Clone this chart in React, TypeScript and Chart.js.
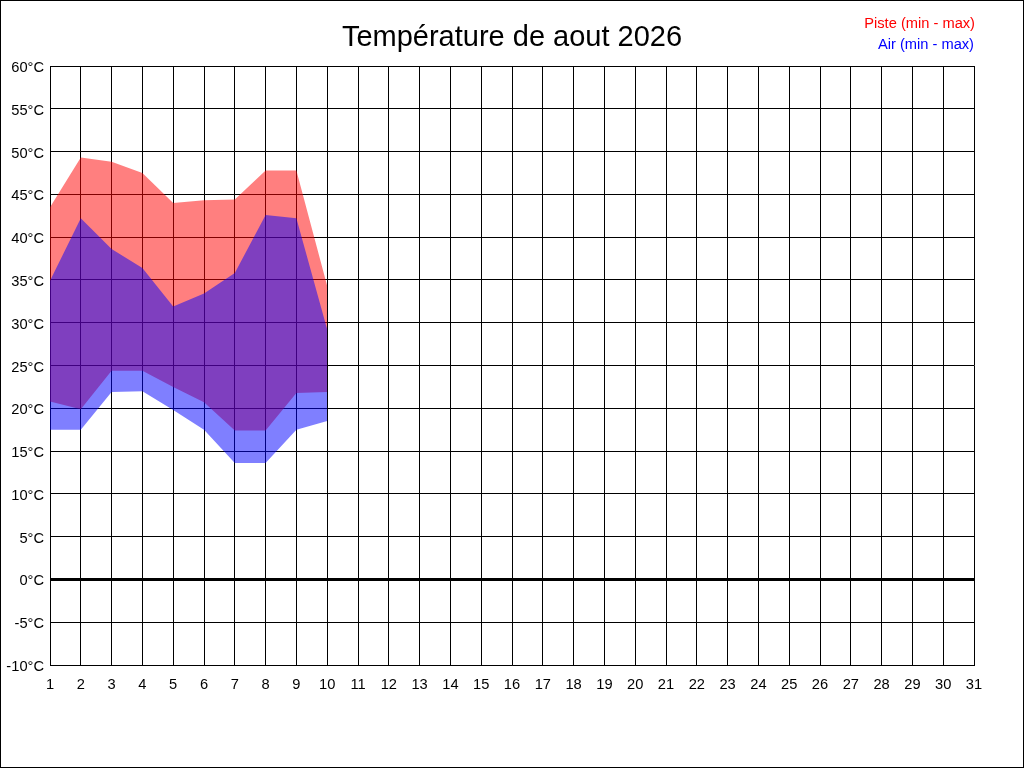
import { Chart, registerables } from "chart.js";
import { useEffect, useRef } from "react";

Chart.register(...registerables);

// jours du mois (1..31) et jours avec mesures
const monthDays = Array.from({ length: 31 }, (_, i) => i + 1);
const days = [1, 2, 3, 4, 5, 6, 7, 8, 9, 10];

// relevés (°C)
const pisteMax = [43.5, 49.3, 48.8, 47.5, 44.0, 44.3, 44.4, 47.8, 47.8, 34.3];
const pisteMin = [20.8, 19.9, 24.4, 24.4, 22.5, 20.7, 17.4, 17.4, 21.8, 21.9];
const airMax = [34.9, 42.2, 38.6, 36.4, 31.9, 33.4, 35.8, 42.6, 42.2, 29.2];
const airMin = [17.5, 17.5, 21.9, 22.0, 19.8, 17.5, 13.6, 13.6, 17.5, 18.5];

const FONT = "'Liberation Sans', Arial, sans-serif";

const toPoints = (values: number[]) => days.map((d, i) => ({ x: d, y: values[i] }));

// titre, légende et cadre dessinés sur le canvas
const decorPlugin = {
  id: "decor",
  afterDraw(chart: Chart) {
    const ctx = chart.ctx;
    ctx.save();
    ctx.strokeStyle = "#000";
    ctx.lineWidth = 1;
    ctx.strokeRect(0.5, 0.5, chart.width - 1, chart.height - 1);

    ctx.fillStyle = "#000";
    ctx.font = `29px ${FONT}`;
    ctx.textAlign = "center";
    ctx.textBaseline = "alphabetic";
    ctx.fillText("Température de aout 2026", 512, 46);

    ctx.font = `14.67px ${FONT}`;
    ctx.textAlign = "right";
    ctx.fillStyle = "#ff0000";
    ctx.fillText("Piste (min - max)", 975, 28);
    ctx.fillStyle = "#0000ff";
    ctx.fillText("Air (min - max)", 974, 49);
    ctx.restore();
  },
};

export default function App() {
  const chartRef = useRef<HTMLCanvasElement>(null);
  const chartInstance = useRef<Chart | null>(null);

  useEffect(() => {
    if (!chartRef.current) return;
    document.body.style.margin = "0";

    const config = {
      type: "line",
      data: {
        datasets: [
          {
            label: "Air max",
            data: toPoints(airMax),
            borderWidth: 0,
            borderColor: "transparent",
            backgroundColor: "rgba(0, 0, 255, 0.5)",
            pointRadius: 0,
            fill: "+1",
          },
          {
            label: "Air min",
            data: toPoints(airMin),
            borderWidth: 0,
            borderColor: "transparent",
            pointRadius: 0,
            fill: false,
          },
          {
            label: "Piste max",
            data: toPoints(pisteMax),
            borderWidth: 0,
            borderColor: "transparent",
            backgroundColor: "rgba(255, 0, 0, 0.5)",
            pointRadius: 0,
            fill: "+1",
          },
          {
            label: "Piste min",
            data: toPoints(pisteMin),
            borderWidth: 0,
            borderColor: "transparent",
            pointRadius: 0,
            fill: false,
          },
        ],
      },
      options: {
        responsive: false,
        devicePixelRatio: 1,
        animation: false,
        layout: { padding: { top: 66, right: 50, left: 0, bottom: 0 } },
        plugins: {
          legend: { display: false },
          title: { display: false },
          tooltip: { enabled: false },
        },
        scales: {
          x: {
            type: "linear",
            min: monthDays[0],
            max: monthDays[monthDays.length - 1],
            afterFit: (scale: any) => {
              scale.height = 103;
            },
            ticks: {
              stepSize: 1,
              autoSkip: false,
              maxRotation: 0,
              padding: 11,
              color: "#000",
              font: { family: FONT, size: 14.67 },
            },
            grid: { color: "#000", lineWidth: 1, drawTicks: false },
            border: { color: "#000", width: 1 },
          },
          y: {
            min: -10,
            max: 60,
            afterFit: (scale: any) => {
              scale.width = 50;
            },
            ticks: {
              stepSize: 5,
              padding: 6,
              labelOffset: 2,
              color: "#000",
              font: { family: FONT, size: 14.67 },
              callback: (v: any) => `${v}°C`,
            },
            grid: {
              color: "#000",
              lineWidth: (c: any) => (c.tick && c.tick.value === 0 ? 3 : 1),
              drawTicks: false,
            },
            border: { color: "#000", width: 1 },
          },
        },
      },
      plugins: [decorPlugin],
    };

    if (chartInstance.current) chartInstance.current.destroy();
    chartInstance.current = new Chart(chartRef.current, config as any);

    return () => {
      if (chartInstance.current) {
        chartInstance.current.destroy();
        chartInstance.current = null;
      }
    };
  }, []);

  return (
    <div style={{ position: "absolute", left: 0, top: 0, width: 1024, height: 768, background: "#fff" }}>
      <canvas ref={chartRef} width={1024} height={768} style={{ width: 1024, height: 768 }} />
    </div>
  );
}
